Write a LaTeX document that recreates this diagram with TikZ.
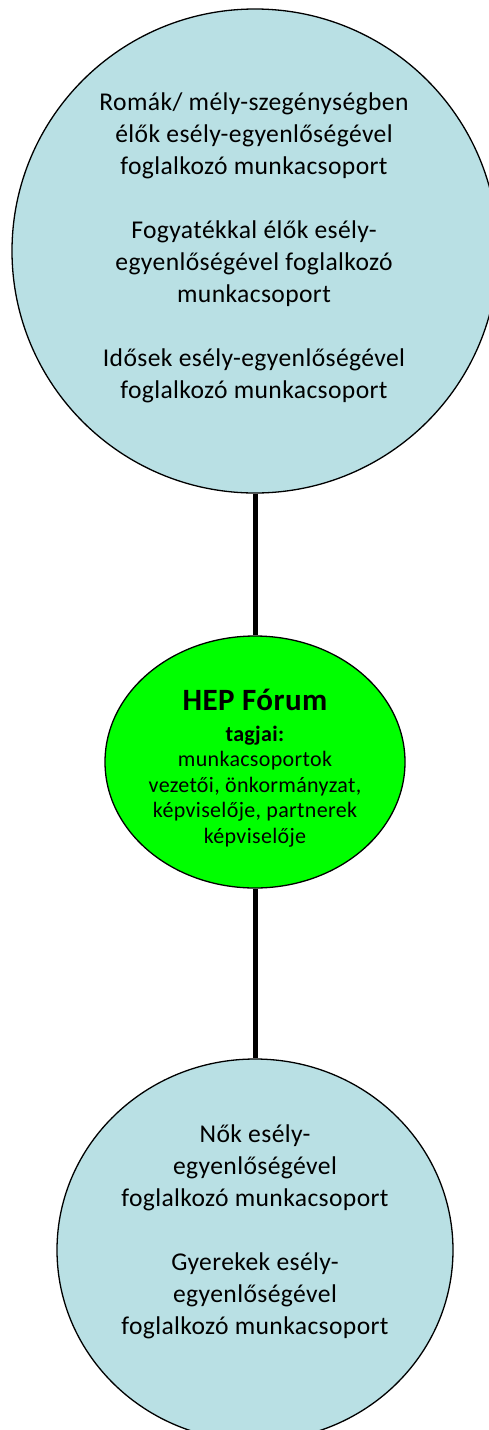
\documentclass[tikz,border=0pt]{standalone}
\usepackage{fontspec}
\setmainfont{Carlito}[LetterSpace=1.5]
\usetikzlibrary{shapes.geometric}

\definecolor{groupblue}{RGB}{185,224,228}
\definecolor{forumgreen}{RGB}{0,255,0}

\tikzset{
  bluecircle/.style={ellipse, draw=black, line width=1.3pt, fill=groupblue, inner sep=0pt},
  greencircle/.style={ellipse, draw=black, line width=1.3pt, fill=forumgreen, inner sep=0pt},
  grouptext/.style={align=center, font=\fontsize{25.6}{32}\selectfont},
  forumtext/.style={align=center, font=\fontsize{22}{25.5}\selectfont},
  link/.style={line width=5pt}
}

\begin{document}
\begin{tikzpicture}[x=1pt, y=-1pt]

    \useasboundingbox (0,0) rectangle (488,1430);

    % Working groups (top)
    \node[bluecircle, minimum width=486pt, minimum height=484pt] (upper) at (255,251) {};
    \node[grouptext] (uppertext) at (254,248) {Romák/ mély-szegénységben\\
        élők esély-egyenlőségével\\
        foglalkozó munkacsoport\\[32pt]
        Fogyatékkal élők esély-\\
        egyenlőségével foglalkozó\\
        munkacsoport\\[32pt]
        Idősek esély-egyenlőségével\\
        foglalkozó munkacsoport};

    % HEP Forum (middle)
    \node[greencircle, minimum width=300pt, minimum height=252pt] (forum) at (255,762) {};
    \node[forumtext] (forumlabel) at (255,768) {{\fontsize{31}{36}\selectfont\bfseries HEP Fórum}\\[5pt]
        \textbf{tagjai:}\\
        munkacsoportok\\
        vezetői, önkormányzat,\\
        képviselője, partnerek\\
        képviselője};

    % Working groups (bottom)
    \node[bluecircle, minimum width=396pt, minimum height=382pt] (lower) at (255,1250) {};
    \node[grouptext] (lowertext) at (255,1232) {Nők esély-\\
        egyenlőségével\\
        foglalkozó munkacsoport\\[32pt]
        Gyerekek esély-\\
        egyenlőségével\\
        foglalkozó munkacsoport};

    % Connectors
    \draw[link] (upper) -- (forum);
    \draw[link] (forum) -- (lower);

\end{tikzpicture}
\end{document}
